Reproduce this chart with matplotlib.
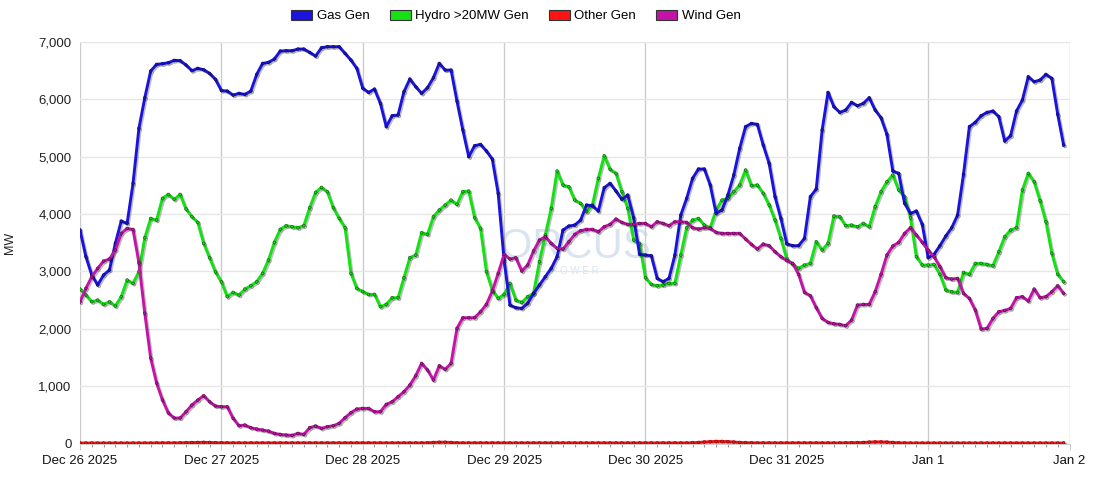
import datetime as dt
import matplotlib
matplotlib.use("Agg")
import matplotlib.pyplot as plt
import matplotlib.dates as mdates
import matplotlib.patheffects as pe
from matplotlib.patches import Patch
from matplotlib.ticker import FuncFormatter

plt.rcParams['font.family'] = ['Liberation Sans', 'DejaVu Sans']

series_names = ["Gas Gen", "Hydro >20MW Gen", "Other Gen", "Wind Gen"]
series_colors = ["#1a14dc", "#14e014", "#ff1414", "#c414a8"]

start_time = dt.datetime(2025, 12, 26, 0, 0)
n_hours = 168

gas = [
    3720, 3256, 2937, 2763, 2937, 3024, 3488, 3877, 3836, 4533, 5490, 6024, 6489, 6605, 6617, 6634, 6675, 6670, 6594, 6495, 6536, 6512, 6448, 6344,
    6150, 6140, 6070, 6100, 6082, 6140, 6430, 6622, 6640, 6698, 6837, 6843, 6843, 6872, 6872, 6814, 6750, 6895, 6913, 6913, 6913, 6796, 6680, 6536,
    6190, 6117, 6175, 5926, 5520, 5711, 5723, 6129, 6350, 6216, 6100, 6199, 6373, 6622, 6506, 6506, 5966, 5461, 4997, 5189, 5212, 5096, 4956, 4359,
    3200, 2414, 2368, 2356, 2443, 2617, 2763, 2908, 3053, 3256, 3720, 3790, 3807, 3894, 4156, 4144, 4051, 4457, 4533, 4399, 4254, 4330, 3935, 3297,
    3285, 3273, 2879, 2821, 2879, 3285, 3981, 4272, 4620, 4783, 4783, 4504, 4010, 4069, 4330, 4678, 5142, 5520, 5577, 5560, 5200, 4881, 4301, 3923,
    3480, 3448, 3448, 3575, 4301, 4434, 5461, 6117, 5868, 5769, 5810, 5943, 5885, 5926, 6024, 5810, 5676, 5386, 4748, 4707, 4185, 4010, 4051, 3819,
    3239, 3297, 3448, 3616, 3761, 3981, 4690, 5520, 5595, 5711, 5769, 5792, 5694, 5270, 5363, 5792, 5984, 6390, 6303, 6332, 6431, 6361, 5734, 5200,
]

hydro = [
    2693, 2588, 2472, 2501, 2426, 2472, 2397, 2560, 2850, 2791, 2995, 3587, 3923, 3894, 4272, 4341, 4254, 4341, 4086, 3952, 3854, 3488, 3239, 2990,
    2820, 2560, 2635, 2588, 2693, 2751, 2820, 2966, 3198, 3506, 3732, 3796, 3778, 3761, 3796, 4109, 4376, 4463, 4387, 4109, 3923, 3761, 2966, 2705,
    2650, 2600, 2600, 2385, 2426, 2542, 2542, 2890, 3239, 3285, 3674, 3645, 3952, 4069, 4156, 4242, 4167, 4388, 4399, 3935, 3749, 2995, 2675, 2530,
    2600, 2792, 2501, 2460, 2560, 2617, 3169, 3633, 4098, 4748, 4504, 4475, 4242, 4185, 4040, 4156, 4620, 5014, 4777, 4707, 4388, 4098, 3546, 3488,
    2890, 2774, 2751, 2763, 2792, 2792, 3285, 3761, 3894, 3923, 3807, 3761, 4069, 4242, 4272, 4388, 4504, 4765, 4492, 4504, 4359, 4156, 3894, 3575,
    3215, 3122, 3053, 3111, 3140, 3517, 3372, 3488, 3964, 3952, 3796, 3807, 3778, 3836, 3778, 4127, 4388, 4562, 4678, 4417, 4301, 3935, 3256, 3111,
    3111, 3122, 2949, 2675, 2646, 2635, 2983, 2949, 3140, 3140, 3122, 3099, 3343, 3604, 3720, 3761, 4417, 4707, 4562, 4231, 3865, 3314, 2949, 2821,
]

other = [
    12, 12, 12, 12, 12, 12, 12, 12, 12, 12, 12, 12, 12, 14, 14, 14, 14, 16, 18, 20, 22, 24, 22, 18,
    16, 15, 14, 14, 14, 14, 14, 14, 14, 14, 14, 14, 14, 14, 14, 14, 14, 14, 14, 14, 14, 14, 14, 14,
    14, 14, 14, 14, 14, 14, 14, 14, 14, 14, 14, 16, 22, 26, 26, 22, 16, 14, 14, 14, 14, 14, 14, 14,
    14, 14, 14, 14, 14, 14, 14, 14, 14, 14, 14, 14, 14, 14, 14, 14, 14, 14, 14, 14, 14, 14, 14, 14,
    14, 14, 14, 14, 14, 14, 14, 14, 18, 22, 30, 36, 40, 40, 36, 30, 22, 18, 16, 14, 14, 14, 14, 14,
    14, 14, 14, 14, 14, 14, 14, 14, 14, 14, 16, 18, 20, 22, 28, 32, 32, 28, 22, 16, 14, 12, 12, 12,
    12, 12, 12, 12, 12, 12, 12, 12, 12, 12, 12, 12, 12, 12, 12, 12, 12, 12, 12, 12, 12, 12, 12, 12,
]

wind = [
    2472, 2705, 2908, 3053, 3180, 3215, 3372, 3662, 3749, 3730, 3150, 2270, 1490, 1057, 761, 535, 447, 447, 557, 673, 760, 836, 731, 656,
    644, 644, 441, 313, 325, 279, 255, 238, 220, 180, 162, 151, 145, 180, 162, 279, 308, 267, 296, 313, 354, 453, 540, 604,
    615, 615, 557, 557, 685, 731, 818, 905, 1021, 1184, 1399, 1283, 1108, 1358, 1294, 1399, 2008, 2194, 2194, 2194, 2298, 2426, 2658, 2966,
    3297, 3215, 3239, 3006, 3111, 3355, 3546, 3604, 3488, 3401, 3389, 3517, 3645, 3709, 3732, 3732, 3691, 3778, 3819, 3912, 3854, 3819, 3819, 3836,
    3836, 3778, 3865, 3836, 3796, 3865, 3865, 3854, 3761, 3738, 3761, 3749, 3680, 3662, 3662, 3662, 3662, 3564, 3471, 3389, 3477, 3448, 3343, 3256,
    3190, 3140, 2949, 2635, 2577, 2368, 2182, 2113, 2089, 2078, 2055, 2153, 2414, 2426, 2426, 2647, 2949, 3285, 3442, 3506, 3662, 3761, 3633, 3506,
    3370, 3256, 3082, 2890, 2867, 2879, 2617, 2530, 2327, 1996, 2008, 2182, 2298, 2321, 2356, 2542, 2560, 2484, 2693, 2542, 2560, 2646, 2751, 2617,
]

x_tick_labels = ["Dec 26 2025", "Dec 27 2025", "Dec 28 2025", "Dec 29 2025",
                 "Dec 30 2025", "Dec 31 2025", "Jan 1", "Jan 2"]
y_ticks = [0, 1000, 2000, 3000, 4000, 5000, 6000, 7000]
y_label = "MW"

times = [start_time + dt.timedelta(hours=h) for h in range(n_hours)]
tick_times = [start_time + dt.timedelta(days=d) for d in range(len(x_tick_labels))]

fig = plt.figure(figsize=(11, 5), dpi=100)
ax = fig.add_axes([80 / 1100, 1 - 443.7 / 500, (1069.5 - 80) / 1100, (443.7 - 41.7) / 500])

all_series = [gas, hydro, other, wind]
z_order = [4, 3, 5, 6]
shadow = [pe.SimpleLineShadow(offset=(1.0, -1.0), shadow_color='black', alpha=0.25), pe.Normal()]
for vals, col, zo in zip(all_series, series_colors, z_order):
    ax.plot(times, vals, color=col, lw=2.1, marker='o', ms=2.0,
            mfc=col, mec=(0, 0, 0, 0.45), mew=0.6, zorder=zo,
            path_effects=shadow, solid_joinstyle='round')

ax.set_xlim(tick_times[0], tick_times[-1])
ax.set_ylim(0, 7000)
ax.set_xticks(tick_times)
ax.set_xticklabels(x_tick_labels)
ax.set_yticks(y_ticks)
ax.yaxis.set_major_formatter(FuncFormatter(lambda v, p: f"{int(v):,}"))
ax.xaxis.set_minor_locator(mdates.HourLocator(byhour=range(0, 24, 2)))

ax.grid(axis='y', color='#e6e6e6', lw=1.0, zorder=0)
ax.grid(axis='x', which='major', color='#cccccc', lw=1.0, zorder=0)
for s in ['top', 'right', 'left']:
    ax.spines[s].set_visible(False)
ax.spines['bottom'].set_color('#cccccc')
ax.tick_params(axis='y', length=0, labelsize=9.5, colors='#222222', pad=6)
ax.tick_params(axis='x', which='major', length=4, color='#cccccc', labelsize=9.5, labelcolor='#111111', pad=4)
ax.tick_params(axis='x', which='minor', length=2, color='#999999', width=0.8)
ax.set_ylabel(y_label, fontsize=9, color='#222222')
ax.yaxis.set_label_coords(-0.065, 0.5)

# faint watermark
ax.text(0.5, 0.49, "ORCUS", transform=ax.transAxes, ha='center', va='center',
        fontsize=30, color='#dae4f0', zorder=1)
ax.text(0.5, 0.43, "P O W E R", transform=ax.transAxes, ha='center', va='center',
        fontsize=7, color='#dae4f0', zorder=1)

handles = [Patch(facecolor=c, edgecolor='#333333', lw=0.8) for c in series_colors]
fig.legend(handles, series_names, loc='center', bbox_to_anchor=(0.469, 0.968), ncol=4,
           frameon=False, fontsize=9.5, handlelength=1.6, handleheight=0.8,
           handletextpad=0.35, columnspacing=1.5)

fig.savefig("out.png", dpi=100)
